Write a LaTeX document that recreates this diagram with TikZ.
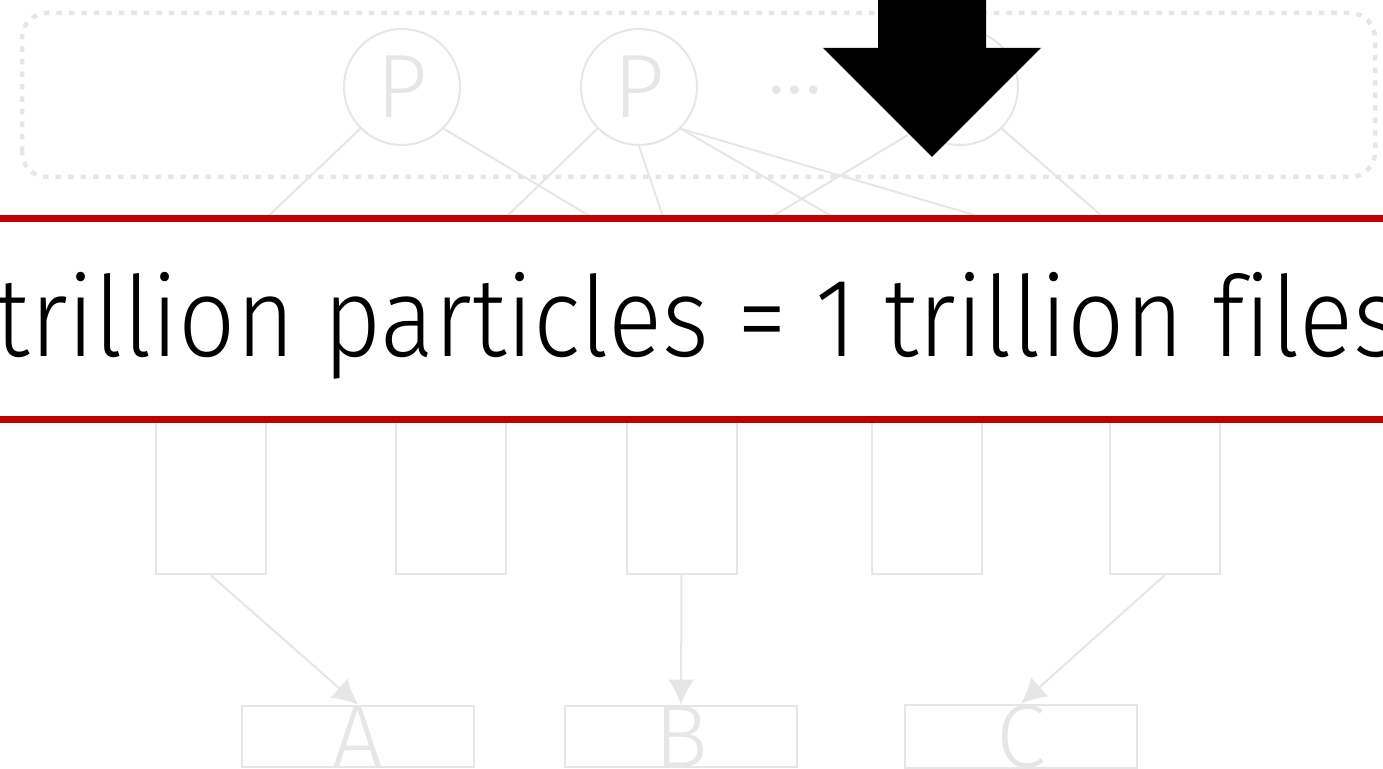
\documentclass[tikz,border=0pt]{standalone}
\usepackage{fontspec}
\IfFontExistsTF{Fira Sans Light}{\setmainfont{Fira Sans Light}}{\setmainfont{Fira Sans}}
\usetikzlibrary{arrows.meta,positioning}
\definecolor{faint}{RGB}{230,230,230}
\definecolor{banner}{RGB}{192,0,0}
\tikzset{
  particle/.style={circle, draw=faint, line width=0.02cm, minimum size=1.16cm, inner sep=0pt,
    text=faint, font=\fontsize{25.6}{26}\selectfont},
  filebox/.style={draw=faint, line width=0.02cm, minimum width=1.10cm, minimum height=3.02cm, inner sep=0pt},
  target/.style={draw=faint, line width=0.02cm, minimum width=2.32cm, minimum height=0.61cm, inner sep=0pt,
    text=faint, font=\fontsize{25.6}{26}\selectfont},
  link/.style={draw=faint, line width=0.02cm},
  feed/.style={link, -{Latex[length=2.5mm,width=2.6mm]}}
}

\begin{document}
\begin{tikzpicture}
\useasboundingbox (0,0) rectangle (13.83,7.69);

% particle group
\draw[faint, line width=0.045cm, dash pattern=on 0.055cm off 0.07cm, rounded corners=0.25cm]
  (0.22,5.92) rectangle (13.75,7.56);
\node[particle] (p1) at (4.02,6.82) {P};
\node[particle] (p2) at (6.39,6.82) {P};
\node[particle] (p3) at (9.60,6.82) {P};
\node[text=faint, font=\fontsize{25.6}{26}\selectfont, inner sep=0pt] (more) at (7.95,6.79) {...};

% files
\node[filebox] (f1) at (2.105,3.46) {};
\node[filebox] (f2) at (4.505,3.46) {};
\node[filebox] (f3) at (6.815,3.46) {};
\node[filebox] (f4) at (9.265,3.46) {};
\node[filebox] (f5) at (11.65,3.46) {};

\foreach \src/\dst in {p1.south west/f1, p1.south east/f3, p2.south west/f2, p2.south/f3,
    p2.south east/f4, p2.south east/f5, p3.south west/f3, p3.south east/f5}
  \draw[link] (\src) -- (\dst.north);

% banner
\fill[white] (-0.1,3.49) rectangle (13.93,5.505);
\draw[banner, line width=0.07cm] (-0.1,5.505) -- (13.93,5.505);
\draw[banner, line width=0.07cm] (-0.1,3.49) -- (13.93,3.49);
\node[anchor=base west, inner sep=0pt,
  font=\fontsize{31.8}{38}\selectfont\addfontfeature{FakeStretch=0.9,Ligatures=NoCommon}]
  (claim) at (-0.05,4.12) {trillion particles = 1 trillion files};

\fill[black] (8.78,7.8) -- (9.86,7.8) -- (9.86,7.21) -- (10.41,7.21) -- (9.32,6.12)
  -- (8.23,7.21) -- (8.78,7.21) -- cycle;

% outputs
\node[target] (a) at (3.58,0.325) {A};
\node[target] (b) at (6.81,0.325) {B};
\node[target] (c) at (10.21,0.325) {C};
\draw[feed] (f1.south) -- (a.north);
\draw[feed] (f3.south) -- (b.north);
\draw[feed] (f5.south) -- (c.north);
\end{tikzpicture}
\end{document}
